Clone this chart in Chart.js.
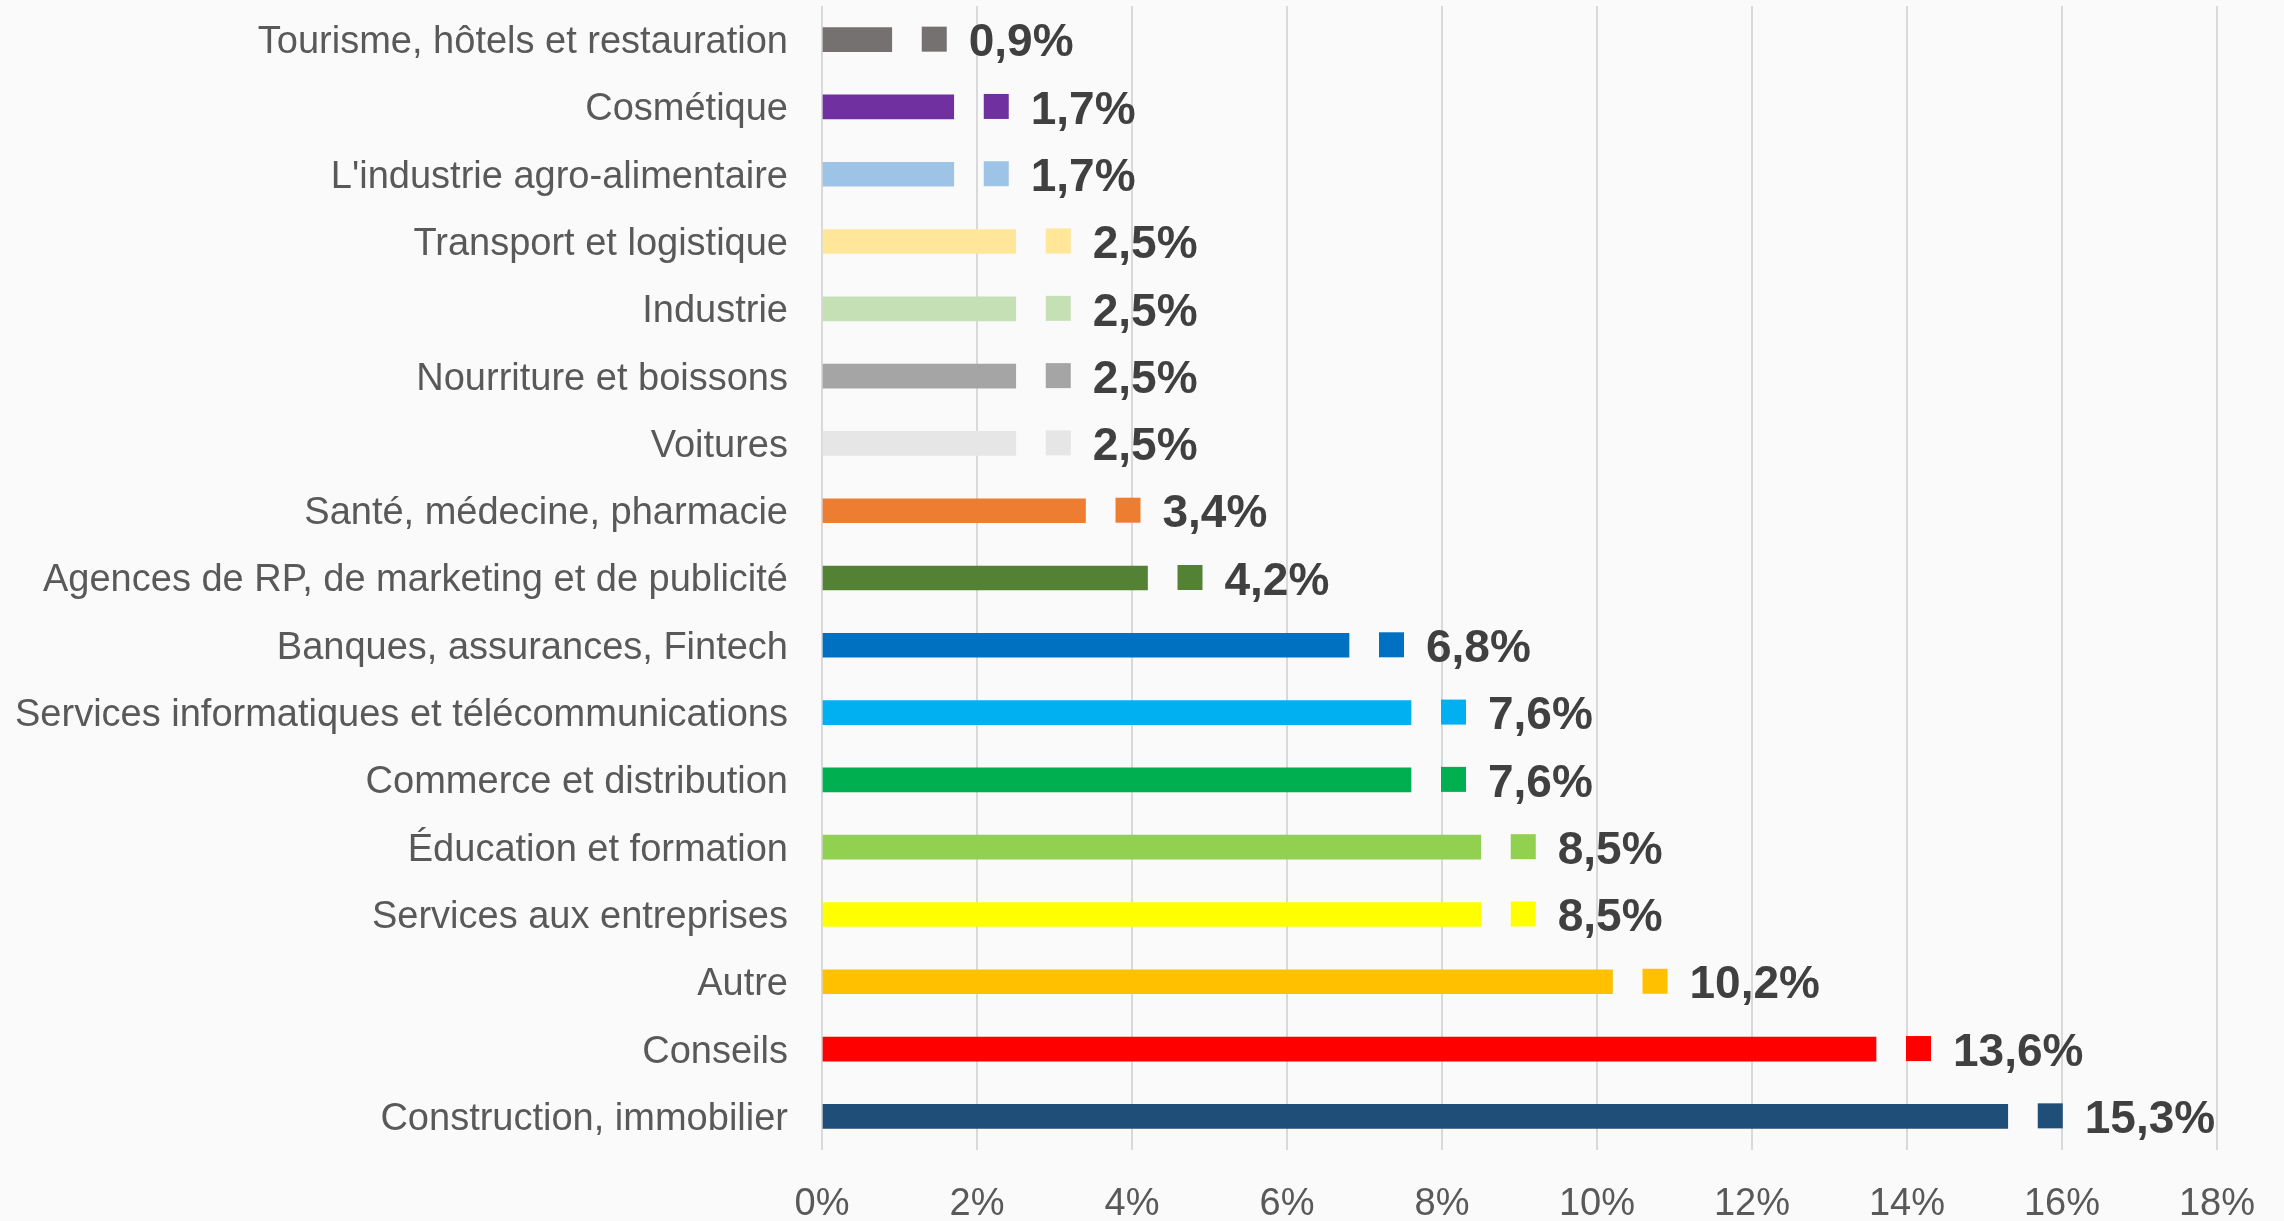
<!DOCTYPE html>
<html>
<head>
<meta charset="utf-8">
<script src="https://cdn.jsdelivr.net/npm/chart.js@4.4.1/dist/chart.umd.min.js"></script>
<style>
  html, body { margin: 0; padding: 0; background: #fafafa; }
  #wrap { width: 2284px; height: 1221px; }
</style>
</head>
<body>
<div id="wrap"><canvas id="secteurChart" width="2284" height="1221"></canvas></div>
<script>
// données (en %)
const categories = [
  'Tourisme, hôtels et restauration',
  'Cosmétique',
  "L'industrie agro-alimentaire",
  'Transport et logistique',
  'Industrie',
  'Nourriture et boissons',
  'Voitures',
  'Santé, médecine, pharmacie',
  'Agences de RP, de marketing et de publicité',
  'Banques, assurances, Fintech',
  'Services informatiques et télécommunications',
  'Commerce et distribution',
  'Éducation et formation',
  'Services aux entreprises',
  'Autre',
  'Conseils',
  'Construction, immobilier'
];
const values = [0.9, 1.7, 1.7, 2.5, 2.5, 2.5, 2.5, 3.4, 4.2, 6.8, 7.6, 7.6, 8.5, 8.5, 10.2, 13.6, 15.3];
const barColors = [
  '#767171', '#7030a0', '#9dc3e6', '#ffe699', '#c5e0b4', '#a5a5a5', '#e7e6e6',
  '#ed7d31', '#548235', '#0070c0', '#00b0f0', '#00b050', '#92d050', '#ffff00',
  '#ffc000', '#ff0000', '#1f4e79'
];
const xTicks = [0, 2, 4, 6, 8, 10, 12, 14, 16, 18];

// petit carré + étiquette de valeur à droite de chaque barre
const valueLabels = {
  id: 'valueLabels',
  afterDatasetsDraw(chart) {
    const ctx = chart.ctx;
    const meta = chart.getDatasetMeta(0);
    ctx.save();
    meta.data.forEach(function (bar, i) {
      const x = bar.x + 30;
      const yBottom = bar.y + bar.height / 2;
      ctx.fillStyle = barColors[i];
      ctx.fillRect(x, yBottom - 25, 25, 25);
      ctx.fillStyle = '#404040';
      ctx.font = 'bold 46px "Liberation Sans", Arial, sans-serif';
      ctx.textAlign = 'left';
      ctx.textBaseline = 'middle';
      ctx.fillText(values[i].toFixed(1).replace('.', ',') + '%', x + 25 + 22, bar.y + 4);
    });
    ctx.restore();
  }
};

const ctx = document.getElementById('secteurChart').getContext('2d');
const secteurChart = new Chart(ctx, {
  type: 'bar',
  data: {
    labels: categories,
    datasets: [{
      data: values,
      backgroundColor: barColors,
      barThickness: 24
    }]
  },
  options: {
    indexAxis: 'y',
    responsive: false,
    animation: false,
    layout: { padding: { top: 6, right: 67, left: 0, bottom: 0 } },
    plugins: {
      legend: { display: false },
      tooltip: { enabled: false }
    },
    scales: {
      x: {
        min: 0,
        max: 18,
        afterBuildTicks: function (scale) {
          scale.ticks = xTicks.map(v => ({ value: v }));
        },
        afterFit: function (scale) {
          scale.height = 71;
          scale.paddingLeft = 0;
          scale.paddingRight = 0;
        },
        grid: { color: '#d9d9d9', lineWidth: 2, drawTicks: false },
        border: { display: false },
        ticks: {
          color: '#595959',
          font: { family: '"Liberation Sans", Arial, sans-serif', size: 38 },
          padding: 32,
          maxRotation: 0,
          callback: v => v + '%'
        }
      },
      y: {
        afterFit: function (scale) {
          scale.width = 822;
          scale.paddingTop = 0;
          scale.paddingBottom = 0;
        },
        grid: { display: false, drawTicks: false },
        border: { display: false },
        ticks: {
          color: '#595959',
          font: { family: '"Liberation Sans", Arial, sans-serif', size: 38 },
          padding: 34,
          labelOffset: 3,
          autoSkip: false
        }
      }
    }
  },
  plugins: [valueLabels]
});
</script>
</body>
</html>
